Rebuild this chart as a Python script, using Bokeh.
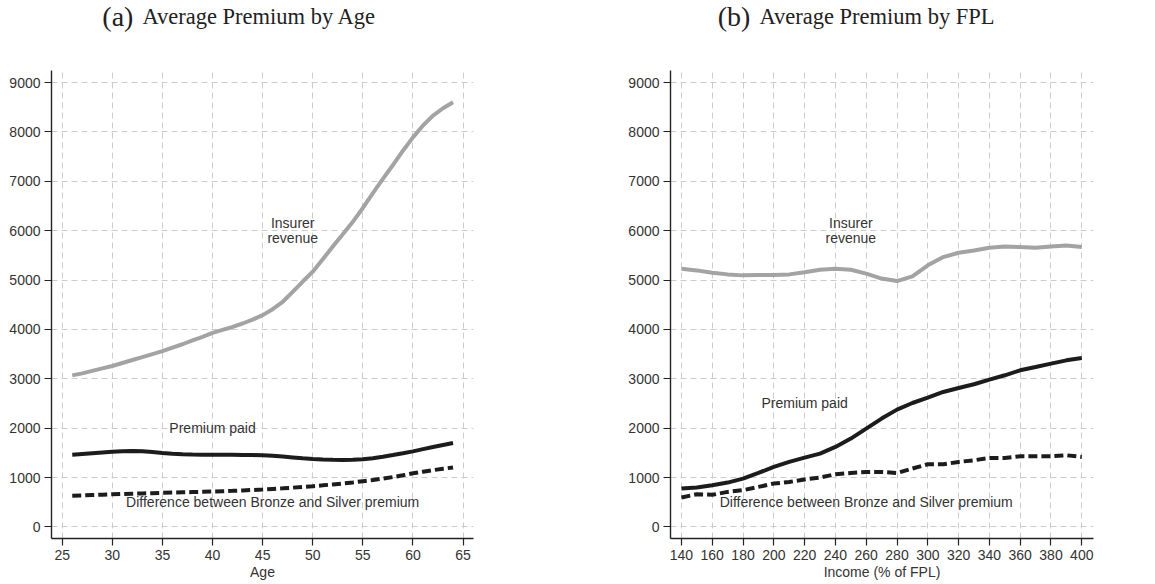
from bokeh.plotting import figure
from bokeh.layouts import row, column
from bokeh.models import FixedTicker, Label, Range1d
from bokeh.embed import file_html
from bokeh.resources import INLINE

# panel (a): average premium by age
ages = list(range(26, 65))
age_revenue = [3070, 3110, 3160, 3210, 3260, 3320, 3380, 3440, 3500, 3560,
               3630, 3700, 3780, 3850, 3930, 3990, 4050, 4120, 4200, 4290,
               4410, 4560, 4760, 4970, 5170, 5420, 5680, 5930, 6180, 6460,
               6760, 7050, 7330, 7620, 7890, 8130, 8330, 8480, 8600]
age_paid = [1460, 1475, 1490, 1505, 1520, 1532, 1538, 1532, 1515, 1498,
            1483, 1472, 1465, 1462, 1460, 1460, 1460, 1458, 1455, 1450,
            1440, 1425, 1408, 1390, 1375, 1365, 1358, 1356, 1360, 1372,
            1392, 1420, 1455, 1492, 1530, 1575, 1620, 1660, 1700]
age_diff = [630, 637, 645, 652, 660, 666, 672, 678, 684, 690,
            696, 701, 706, 711, 716, 723, 730, 739, 748, 758,
            770, 782, 795, 810, 825, 842, 860, 880, 900, 925,
            950, 978, 1010, 1045, 1085, 1118, 1150, 1178, 1205]

# panel (b): average premium by income (% of FPL)
fpl = list(range(140, 401, 10))
fpl_revenue = [5230, 5196, 5150, 5115, 5095, 5105, 5105, 5115, 5160, 5210,
               5230, 5210, 5130, 5030, 4980, 5075, 5300, 5466, 5554, 5600,
               5656, 5682, 5668, 5656, 5682, 5700, 5668]
fpl_paid = [777, 797, 844, 898, 979, 1093, 1215, 1316, 1404, 1485,
            1620, 1789, 1992, 2194, 2376, 2510, 2619, 2733, 2814, 2889,
            2984, 3071, 3172, 3239, 3307, 3374, 3421]
fpl_diff = [595, 662, 650, 709, 743, 810, 878, 911, 960, 1000,
            1067, 1093, 1113, 1113, 1093, 1182, 1269, 1269, 1316, 1350,
            1397, 1397, 1431, 1431, 1431, 1451, 1417]

y_ticks = list(range(0, 9001, 1000))
age_ticks = list(range(25, 66, 5))
fpl_ticks = list(range(140, 401, 20))

SANS = "Liberation Sans"
SERIF = "Liberation Serif"
GRAY = "#a3a3a3"
DARK = "#1c1c1c"
TXT = "#333333"


def make_title(letter, title, x_range, title_x, border_left, frame_w, border_right):
    # small strip above each panel that carries the "(a) ..." caption
    t = figure(frame_width=frame_w, frame_height=40,
               min_border_left=border_left, min_border_right=border_right,
               min_border_top=0, min_border_bottom=0,
               x_range=x_range, y_range=Range1d(0, 1),
               x_axis_location=None, y_axis_location=None,
               tools="", toolbar_location=None, output_backend="svg")
    t.outline_line_color = None
    t.grid.visible = False
    t.add_layout(Label(x=title_x, y=0.6, text=letter, text_font=SERIF,
                       text_font_size="28px", text_color="#222222",
                       text_align="right", text_baseline="alphabetic",
                       x_offset=-4))
    t.add_layout(Label(x=title_x, y=0.6, text=title, text_font=SERIF,
                       text_font_size="22.5px", text_color="#222222",
                       text_align="left", text_baseline="alphabetic",
                       x_offset=5))
    return t


def make_panel(xs, revenue, paid, diff, x_range, x_ticks, x_label,
               rev_pos, paid_pos, diff_pos, border_left, frame_w, border_right):
    p = figure(
        frame_width=frame_w,
        frame_height=468,
        min_border_left=border_left,
        min_border_right=border_right,
        min_border_top=30,
        min_border_bottom=44,
        x_range=x_range,
        y_range=Range1d(-235, 9245),
        tools="",
        toolbar_location=None,
        output_backend="svg",
    )
    p.outline_line_color = None
    p.background_fill_color = "white"
    p.border_fill_color = "white"

    p.grid.grid_line_color = "#cccccc"
    p.grid.grid_line_dash = "6 4"
    p.grid.grid_line_width = 1
    p.xaxis.ticker = FixedTicker(ticks=x_ticks)
    p.yaxis.ticker = FixedTicker(ticks=y_ticks)

    for ax in (p.xaxis, p.yaxis):
        ax.axis_line_color = "#222222"
        ax.axis_line_width = 1.4
        ax.major_tick_line_color = "#222222"
        ax.major_tick_line_width = 1.2
        ax.major_tick_out = 7
        ax.major_tick_in = 0
        ax.minor_tick_line_color = None
        ax.major_label_text_font = SANS
        ax.major_label_text_font_size = "14px"
        ax.major_label_text_color = TXT
        ax.major_label_standoff = 4
    p.xaxis.axis_label = x_label
    p.xaxis.axis_label_text_font = SANS
    p.xaxis.axis_label_text_font_size = "14px"
    p.xaxis.axis_label_text_font_style = "normal"
    p.xaxis.axis_label_text_color = TXT
    p.xaxis.axis_label_standoff = 1

    p.line(xs, revenue, line_color=GRAY, line_width=4)
    p.line(xs, paid, line_color=DARK, line_width=4)
    p.line(xs, diff, line_color=DARK, line_width=4, line_dash="9 4")

    notes = [("Insurer", rev_pos[0], rev_pos[1] + 150),
             ("revenue", rev_pos[0], rev_pos[1] - 155),
             ("Premium paid", paid_pos[0], paid_pos[1]),
             ("Difference between Bronze and Silver premium", diff_pos[0], diff_pos[1])]
    for txt, x, y in notes:
        p.add_layout(Label(x=x, y=y, text=txt, text_font=SANS,
                           text_font_size="14px", text_color=TXT,
                           text_align="center", text_baseline="middle"))
    return p


age_range = Range1d(23.93, 66.04)
fpl_range = Range1d(132.9, 407.6)

t1 = make_title("(a)", "Average Premium by Age", age_range, 32.5, 51, 422, 102)
t2 = make_title("(b)", "Average Premium by FPL", fpl_range, 187.4, 95, 423, 60)
p1 = make_panel(ages, age_revenue, age_paid, age_diff, age_range, age_ticks,
                "Age", (48, 6000), (40, 2000), (46, 500), 51, 422, 102)
p2 = make_panel(fpl, fpl_revenue, fpl_paid, fpl_diff, fpl_range, fpl_ticks,
                "Income (% of FPL)", (250, 6000), (220, 2500), (260, 500),
                95, 423, 60)

p = column(row(t1, t2), row(p1, p2))
open("out.html", "w").write(file_html(p, INLINE))
